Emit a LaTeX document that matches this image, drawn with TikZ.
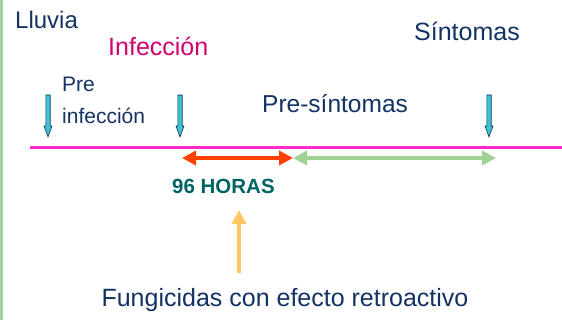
\documentclass[tikz,border=0pt]{standalone}
\usepackage{fontspec}
\setmainfont{Liberation Sans}
\usetikzlibrary{arrows.meta}
\definecolor{navy}{RGB}{20,50,100}
\definecolor{mag}{RGB}{210,0,110}
\definecolor{pinkline}{RGB}{255,40,210}
\definecolor{teal2}{RGB}{0,100,100}
\definecolor{cyanA}{RGB}{60,195,205}
\definecolor{redA}{RGB}{255,64,0}
\definecolor{greenA}{RGB}{160,210,150}
\definecolor{yellowA}{RGB}{255,200,100}
\definecolor{barg}{RGB}{160,210,160}
\tikzset{
  lbl/.style={inner sep=0pt, text=navy, font=\fontsize{24}{28}\selectfont},
  downarr/.style={draw=navy, fill=cyanA, line width=0.6pt},
}
\begin{document}
\begin{tikzpicture}[x=1pt,y=-1pt]
\useasboundingbox (0,0) rectangle (562,320);
\fill[white] (0,0) rectangle (562,320);
\fill[barg] (0,0) rectangle (3,320);
% texts
\node[lbl, anchor=west] (lluvia) at (15,20) {Lluvia};
\node[lbl, anchor=west, text=mag, font=\fontsize{25}{28}\selectfont] (infec) at (108,46) {Infección};
\node[lbl, anchor=west, font=\fontsize{25}{28}\selectfont] (sint) at (414,31) {Síntomas};
\node[lbl, anchor=west, font=\fontsize{21}{24}\selectfont] (pre) at (62,84) {Pre};
\node[lbl, anchor=west, font=\fontsize{21}{24}\selectfont] (preinf) at (62,116) {infección};
\node[lbl, anchor=west, font=\fontsize{24.5}{28}\selectfont] (presint) at (262,104) {Pre-síntomas};
\node[inner sep=0pt, anchor=west, text=teal2, font=\bfseries\fontsize{20.5}{24}\selectfont] (horas) at (172,186) {96 HORAS};
\node[lbl, font=\fontsize{25}{28}\selectfont] (fung) at (285,300) {Fungicidas con efecto retroactivo};
% down arrows
\foreach \x/\n in {48/a1,180/a2,489/a3}{
  \filldraw[downarr] (\x-2.2,95) -- (\x+2.2,95) -- (\x+2.2,126) -- (\x+4,126) -- (\x,137) -- (\x-4,126) -- (\x-2.2,126) -- cycle;
  \coordinate (\n) at (\x,137);
}
% timeline
\coordinate (t0) at (30,148);
\coordinate (t1) at (562,148);
\draw[pinkline, line width=3pt] (t0) -- (t1);
% double arrows
\coordinate (r0) at (182,158);
\coordinate (r1) at (293,158);
\coordinate (g1) at (496,158);
\draw[redA, line width=4pt, {Triangle[length=14pt,width=14pt]}-{Triangle[length=14pt,width=14pt]}] (r0) -- (r1);
\draw[greenA, line width=4pt, {Triangle[length=14pt,width=14pt]}-{Triangle[length=14pt,width=14pt]}] (r1) -- (g1);
% yellow arrow
\coordinate (y0) at (239,273);
\coordinate (y1) at (239,210);
\draw[yellowA, line width=4pt, -{Triangle[length=14pt,width=14pt]}] (y0) -- (y1);
\end{tikzpicture}
\end{document}
